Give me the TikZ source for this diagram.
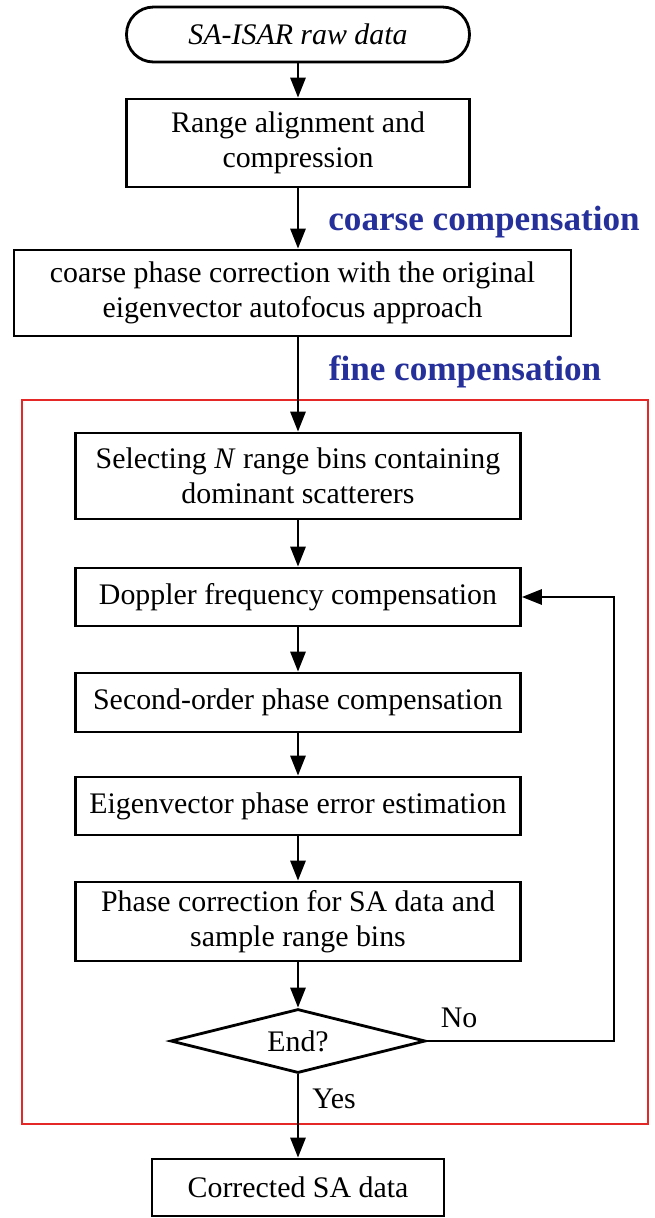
\documentclass[tikz,border=0pt]{standalone}
\usepackage{fontspec}
\setmainfont{Liberation Serif}
\usetikzlibrary{arrows.meta,shapes.geometric}
\definecolor{tagblue}{RGB}{38,48,155}
\definecolor{framered}{RGB}{228,40,40}
\begin{document}
\begin{tikzpicture}[x=0.02cm, y=-0.02cm,
    proc/.style={draw, line width=1.6pt, align=center, inner sep=0pt,
        font=\fontsize{17}{20}\selectfont},
    flow/.style={line width=1.6pt, -{Triangle[length=0.4cm, width=0.3cm]}},
    tag/.style={font=\fontsize{20}{24}\selectfont\bfseries, text=tagblue},
    note/.style={font=\fontsize{17}{20}\selectfont}]
        \useasboundingbox (0,0) rectangle (655,1218);
        % Fine compensation frame
        \draw[framered, line width=1.3pt] (22,400) rectangle (648,1124);
        % Steps
        \node[proc, rounded corners=0.54cm, minimum width=6.86cm, minimum height=1.1cm]
            (raw) at (298,34.5) {\itshape SA-ISAR raw data};
        \node[proc, minimum width=6.86cm, minimum height=1.76cm]
            (align) at (298,143) {Range alignment and\\compression};
        \node[proc, minimum width=11.14cm, minimum height=1.72cm]
            (coarse) at (292.5,293) {coarse phase correction with the original\\eigenvector autofocus approach};
        \node[proc, minimum width=8.9cm, minimum height=1.72cm]
            (select) at (298,476) {Selecting \textit{N} range bins containing\\dominant scatterers};
        \node[proc, minimum width=8.9cm, minimum height=1.16cm]
            (doppler) at (298,597) {Doppler frequency compensation};
        \node[proc, minimum width=8.9cm, minimum height=1.18cm]
            (second) at (298,702.5) {Second-order phase compensation};
        \node[proc, minimum width=8.9cm, minimum height=1.16cm]
            (eigen) at (298,806) {Eigenvector phase error estimation};
        \node[proc, minimum width=8.9cm, minimum height=1.58cm]
            (phase) at (298,921.5) {Phase correction for SA data and\\sample range bins};
        \node[proc, diamond, aspect=4, minimum width=5.1cm, minimum height=1.28cm]
            (stop) at (298,1041) {End?};
        \node[proc, minimum width=5.84cm, minimum height=1.14cm]
            (done) at (298,1187.5) {Corrected SA data};
        % Stage labels
        \node[tag] (coarsetag) at (484,222) {coarse compensation};
        \node[tag] (finetag) at (465,372) {fine compensation};
        % Flow
        \draw[flow] (raw) -- (align);
        \draw[flow] (align.south) -- (align.south |- coarse.north);
        \draw[flow] (coarse.south -| select) -- (select.north);
        \draw[flow] (select) -- (doppler);
        \draw[flow] (doppler) -- (second);
        \draw[flow] (second) -- (eigen);
        \draw[flow] (eigen) -- (phase);
        \draw[flow] (phase) -- (stop);
        \draw[flow] (stop) -- (done);
        % Loop back
        \coordinate (turn) at (614,1041);
        \draw[flow] (stop.east) -- (turn) |- (doppler.east);
        \node[note] (no) at (459,1018) {No};
        \node[note] (yes) at (334,1099) {Yes};
    \end{tikzpicture}
\end{document}
